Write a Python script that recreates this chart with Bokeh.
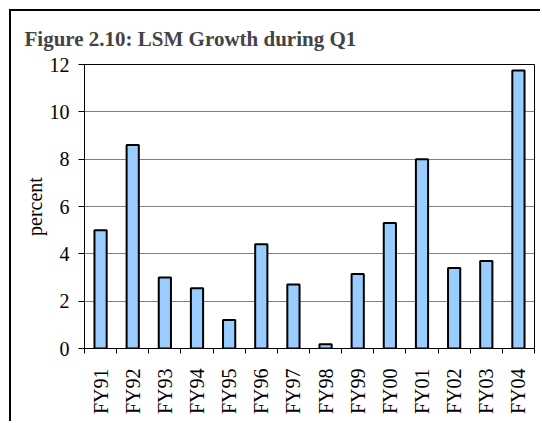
import math
from bokeh.plotting import figure
from bokeh.models import ColumnDataSource, FixedTicker, Range1d
from bokeh.embed import file_html
from bokeh.resources import INLINE

categories = ["FY91", "FY92", "FY93", "FY94", "FY95", "FY96", "FY97",
              "FY98", "FY99", "FY00", "FY01", "FY02", "FY03", "FY04"]
growth = [5.0, 8.6, 3.0, 2.55, 1.2, 4.4, 2.7, 0.18, 3.15, 5.3, 8.0, 3.4, 3.7, 11.75]
y_ticks = [0, 2, 4, 6, 8, 10, 12]

FONT = "Liberation Serif"

xs = [i + 0.5 for i in range(len(categories))]
src = ColumnDataSource(data=dict(x=xs, y=growth, cat=categories))

p = figure(width=531, height=412, output_backend="svg", toolbar_location=None,
           x_range=Range1d(0, len(categories)), y_range=Range1d(0, 12),
           min_border_left=73, min_border_right=8, min_border_top=51,
           min_border_bottom=75)
# outer chart frame: only left and top edges fall inside the window
p.styles = {"margin-left": "9px", "margin-top": "9px",
            "border-left": "2px solid black", "border-top": "2px solid black"}

p.vbar(x="x", top="y", width=0.38, source=src, fill_color="#99CCFF",
       line_color="black", line_width=2)

p.title.text = "Figure 2.10: LSM Growth during Q1"
p.title.text_font = FONT
p.title.text_font_size = "21px"
p.title.text_font_style = "bold"
p.title.align = "left"
p.title.offset = -60
p.title.standoff = 27

p.outline_line_color = "black"
p.outline_line_width = 1
p.background_fill_color = "white"
p.border_fill_color = "white"

# y axis
ya = p.yaxis[0]
ya.ticker = FixedTicker(ticks=y_ticks, minor_ticks=[])
ya.axis_line_color = "black"
ya.major_tick_out = 6
ya.major_tick_in = 0
ya.major_tick_line_color = "black"
ya.minor_tick_line_color = None
ya.major_label_text_font = FONT
ya.major_label_text_font_size = "20px"
ya.major_label_text_color = "black"
ya.major_label_standoff = 9
ya.axis_label = "percent"
ya.axis_label_text_font = FONT
ya.axis_label_text_font_size = "20px"
ya.axis_label_text_font_style = "normal"
ya.axis_label_text_color = "black"
ya.axis_label_standoff = 1

# x axis: labels at bar centres, tick marks at category boundaries
xa = p.xaxis[0]
xa.ticker = FixedTicker(ticks=xs, minor_ticks=list(range(len(categories) + 1)))
xa.major_label_overrides = {x: c for x, c in zip(xs, categories)}
xa.major_label_orientation = math.pi / 2
xa.major_tick_out = 0
xa.major_tick_in = 0
xa.minor_tick_out = 5
xa.minor_tick_in = 0
xa.minor_tick_line_color = "black"
xa.axis_line_color = "black"
xa.major_label_text_font = FONT
xa.major_label_text_font_size = "20px"
xa.major_label_text_color = "black"
xa.major_label_standoff = 15

p.xgrid.grid_line_color = None
p.ygrid.ticker = FixedTicker(ticks=y_ticks)
p.ygrid.grid_line_color = "#808080"
p.ygrid.grid_line_width = 1

open("out.html", "w").write(file_html(p, INLINE))
